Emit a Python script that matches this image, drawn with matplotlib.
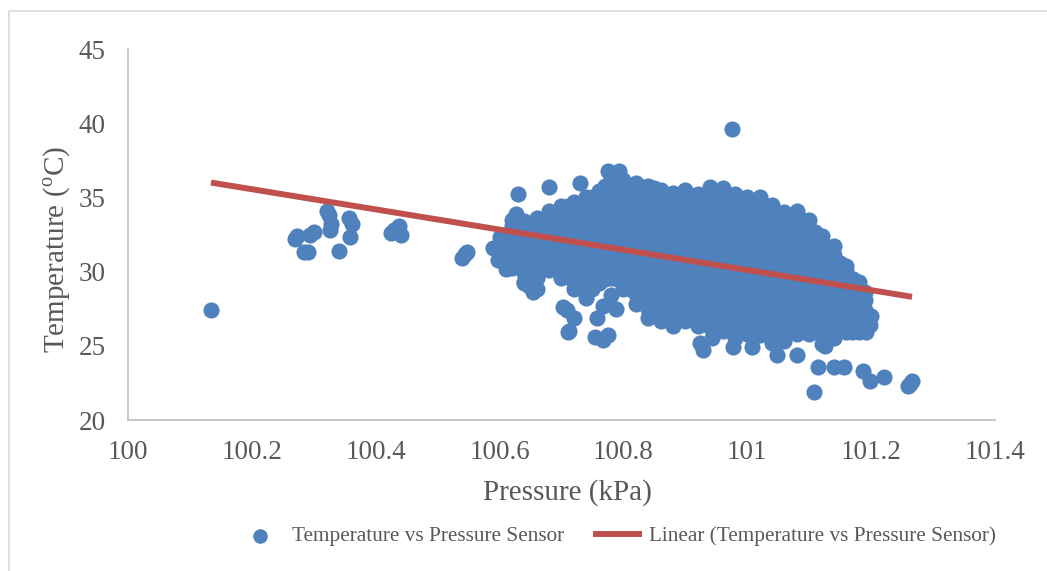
import matplotlib
matplotlib.use('Agg')
import matplotlib.pyplot as plt
from matplotlib.patches import Rectangle

plt.rcParams['font.family'] = ['Liberation Serif', 'DejaVu Serif']
plt.rcParams['mathtext.fontset'] = 'custom'
plt.rcParams['mathtext.rm'] = 'Liberation Serif'

# Dense cloud
col_pressure = [100.60, 100.62, 100.64, 100.66, 100.68, 100.70, 100.72, 100.74,
                100.76, 100.78, 100.80, 100.82, 100.84, 100.86, 100.88, 100.90,
                100.92, 100.94, 100.96, 100.98, 101.00, 101.02, 101.04, 101.06,
                101.08, 101.10, 101.12, 101.14, 101.16, 101.18]
col_temps = [
    [30.9, 31.6, 32.3],
    [30.25, 30.95, 31.65, 32.35, 33.05, 33.5],
    [29.2, 29.9, 30.6, 31.3, 32.0, 32.7, 33.4],
    [28.85, 29.55, 30.25, 30.95, 31.65, 32.35, 33.05, 33.6],
    [30.1, 30.6, 31.3, 32.0, 32.7, 33.4, 34.1],
    [30.25, 30.95, 31.65, 32.35, 33.05, 33.75, 34.4],
    [28.8, 29.2, 29.9, 30.6, 31.3, 32.0, 32.7, 33.4, 34.1, 34.7],
    [28.2, 28.85, 29.55, 30.25, 30.95, 31.65, 32.35, 33.05, 33.75, 34.45, 35.0],
    [29.2, 29.9, 30.6, 31.3, 32.0, 32.7, 33.4, 34.1, 34.8, 35.4],
    [28.45, 29.55, 30.25, 30.95, 31.65, 32.35, 33.05, 33.75, 34.45, 35.15, 35.85, 36.3],
    [28.8, 29.2, 29.9, 30.6, 31.3, 32.0, 32.7, 33.4, 34.1, 34.8, 35.5, 36.2],
    [27.8, 28.5, 29.2, 29.9, 30.6, 31.3, 32.0, 32.7, 33.4, 34.1, 34.8, 35.5, 36.0],
    [26.9, 27.45, 28.15, 28.85, 29.55, 30.25, 30.95, 31.65, 32.35, 33.05, 33.75, 34.45, 35.15, 35.8],
    [26.7, 27.1, 27.8, 28.5, 29.2, 29.9, 30.6, 31.3, 32.0, 32.7, 33.4, 34.1, 34.8, 35.5],
    [26.35, 27.05, 27.75, 28.45, 29.15, 29.85, 30.55, 31.25, 31.95, 32.65, 33.35, 34.05, 34.75, 35.3],
    [26.7, 27.4, 28.1, 28.8, 29.5, 30.2, 30.9, 31.6, 32.3, 33.0, 33.7, 34.4, 35.1, 35.5],
    [26.35, 27.05, 27.75, 28.45, 29.15, 29.85, 30.55, 31.25, 31.95, 32.65, 33.35, 34.05, 34.75, 35.2],
    [26.3, 27.0, 27.7, 28.4, 29.1, 29.8, 30.5, 31.2, 31.9, 32.6, 33.3, 34.0, 34.7, 35.4, 35.7],
    [26.0, 26.65, 27.35, 28.05, 28.75, 29.45, 30.15, 30.85, 31.55, 32.25, 32.95, 33.65, 34.35, 35.05, 35.6],
    [25.5, 26.3, 27.0, 27.7, 28.4, 29.1, 29.8, 30.5, 31.2, 31.9, 32.6, 33.3, 34.0, 34.7, 35.2],
    [25.8, 26.45, 27.15, 27.85, 28.55, 29.25, 29.95, 30.65, 31.35, 32.05, 32.75, 33.45, 34.15, 34.85, 35.0],
    [25.7, 26.3, 27.0, 27.7, 28.4, 29.1, 29.8, 30.5, 31.2, 31.9, 32.6, 33.3, 34.0, 34.7, 35.0],
    [25.2, 25.95, 26.65, 27.35, 28.05, 28.75, 29.45, 30.15, 30.85, 31.55, 32.25, 32.95, 33.65, 34.35, 34.5],
    [25.3, 26.0, 26.7, 27.4, 28.1, 28.8, 29.5, 30.2, 30.9, 31.6, 32.3, 33.0, 33.7, 34.0],
    [25.8, 26.35, 27.05, 27.75, 28.45, 29.15, 29.85, 30.55, 31.25, 31.95, 32.65, 33.35, 34.1],
    [25.8, 26.5, 27.2, 27.9, 28.6, 29.3, 30.0, 30.7, 31.4, 32.1, 32.8, 33.5],
    [25.1, 25.7, 26.35, 27.05, 27.75, 28.45, 29.15, 29.85, 30.55, 31.25, 31.95, 32.4],
    [25.5, 26.2, 26.9, 27.6, 28.3, 29.0, 29.7, 30.4, 31.1, 31.7],
    [25.9, 26.55, 27.25, 27.95, 28.65, 29.35, 30.05, 30.4],
    [25.9, 26.6, 27.3, 28.0, 28.7, 29.3],
]

# Points between those columns
mid_pressure = [100.63, 100.65, 100.67, 100.69, 100.71, 100.73, 100.75, 100.77,
                100.79, 100.81, 100.83, 100.85, 100.87, 100.89, 100.91, 100.93,
                100.95, 100.97, 100.99, 101.01, 101.03, 101.05, 101.07, 101.09,
                101.11, 101.13, 101.15, 101.17, 101.19]
mid_temps = [
    [30.9, 31.6, 32.3, 33.0],
    [29.5, 30.2, 30.9, 31.6, 32.3, 33.0],
    [30.2, 30.9, 31.6, 32.3, 33.0, 33.4],
    [30.9, 31.6, 32.3, 33.0, 33.7],
    [30.9, 31.6, 32.3, 33.0, 33.7, 34.4],
    [29.5, 30.2, 30.9, 31.6, 32.3, 33.0, 33.7, 34.4],
    [28.8, 29.5, 30.2, 30.9, 31.6, 32.3, 33.0, 33.7, 34.4, 35.0],
    [29.5, 30.2, 30.9, 31.6, 32.3, 33.0, 33.7, 34.4, 35.1, 35.8],
    [29.5, 30.2, 30.9, 31.6, 32.3, 33.0, 33.7, 34.4, 35.1, 35.8],
    [28.8, 29.5, 30.2, 30.9, 31.6, 32.3, 33.0, 33.7, 34.4, 35.1, 35.8],
    [28.1, 28.8, 29.5, 30.2, 30.9, 31.6, 32.3, 33.0, 33.7, 34.4, 35.1, 35.7],
    [27.4, 28.1, 28.8, 29.5, 30.2, 30.9, 31.6, 32.3, 33.0, 33.7, 34.4, 35.1, 35.6],
    [27.4, 28.1, 28.8, 29.5, 30.2, 30.9, 31.6, 32.3, 33.0, 33.7, 34.4, 35.1],
    [27.4, 28.1, 28.8, 29.5, 30.2, 30.9, 31.6, 32.3, 33.0, 33.7, 34.4, 35.1],
    [27.4, 28.1, 28.8, 29.5, 30.2, 30.9, 31.6, 32.3, 33.0, 33.7, 34.4, 35.1],
    [26.7, 27.4, 28.1, 28.8, 29.5, 30.2, 30.9, 31.6, 32.3, 33.0, 33.7, 34.4, 35.1],
    [26.7, 27.4, 28.1, 28.8, 29.5, 30.2, 30.9, 31.6, 32.3, 33.0, 33.7, 34.4, 35.1],
    [26.7, 27.4, 28.1, 28.8, 29.5, 30.2, 30.9, 31.6, 32.3, 33.0, 33.7, 34.4, 35.1],
    [26.0, 26.7, 27.4, 28.1, 28.8, 29.5, 30.2, 30.9, 31.6, 32.3, 33.0, 33.7, 34.4, 34.9],
    [26.0, 26.7, 27.4, 28.1, 28.8, 29.5, 30.2, 30.9, 31.6, 32.3, 33.0, 33.7, 34.4],
    [26.0, 26.7, 27.4, 28.1, 28.8, 29.5, 30.2, 30.9, 31.6, 32.3, 33.0, 33.7, 34.4],
    [26.0, 26.7, 27.4, 28.1, 28.8, 29.5, 30.2, 30.9, 31.6, 32.3, 33.0, 33.7],
    [26.0, 26.7, 27.4, 28.1, 28.8, 29.5, 30.2, 30.9, 31.6, 32.3, 33.0, 33.7],
    [26.0, 26.7, 27.4, 28.1, 28.8, 29.5, 30.2, 30.9, 31.6, 32.3, 33.0, 33.5],
    [26.0, 26.7, 27.4, 28.1, 28.8, 29.5, 30.2, 30.9, 31.6, 32.3, 32.7],
    [26.0, 26.7, 27.4, 28.1, 28.8, 29.5, 30.2, 30.9, 31.6],
    [26.7, 27.4, 28.1, 28.8, 29.5, 30.2, 30.6],
    [26.7, 27.4, 28.1, 28.8, 29.5],
    [26.7, 27.4, 28.1, 28.6],
]

# Scattered points around the cloud
out_pressure = [100.134, 100.270, 100.273, 100.284, 100.290, 100.294, 100.300, 100.322,
                100.325, 100.328, 100.326, 100.340, 100.357, 100.362, 100.358, 100.425,
                100.430, 100.438, 100.441, 100.539, 100.544, 100.548, 100.590, 100.598,
                100.610, 100.627, 100.630, 100.640, 100.648, 100.654, 100.680, 100.700,
                100.703, 100.709, 100.711, 100.720, 100.712, 100.730, 100.754, 100.757,
                100.767, 100.767, 100.775, 100.775, 100.788, 100.793, 100.923, 100.929,
                100.943, 100.977, 101.008, 101.048, 101.080, 101.108, 101.114, 101.125,
                101.140, 101.156, 101.169, 101.187, 101.192, 101.198, 101.200, 101.198,
                101.221, 101.260, 101.263, 101.266, 100.975]
out_temps = [27.4, 32.2, 32.4, 31.3, 31.3, 32.5, 32.7, 34.1,
             33.8, 33.2, 32.8, 31.4, 33.6, 33.2, 32.3, 32.6,
             32.8, 33.1, 32.5, 30.9, 31.2, 31.3, 31.6, 30.8,
             30.2, 33.9, 35.2, 29.3, 29.0, 28.6, 35.7, 29.6,
             27.6, 27.4, 25.9, 26.9, 26.0, 36.0, 25.6, 26.9,
             27.7, 25.4, 25.7, 36.8, 27.5, 36.8, 25.2, 24.7,
             25.5, 24.9, 24.9, 24.4, 24.4, 21.9, 23.6, 25.0,
             23.6, 23.6, 25.9, 23.3, 25.9, 22.6, 27.0, 26.4,
             22.9, 22.3, 22.4, 22.6, 39.6]

# Trend line end points
trend_pressure = [100.134, 101.266]
trend_temps = [36.0, 28.3]

x_ticks = [100, 100.2, 100.4, 100.6, 100.8, 101, 101.2, 101.4]
x_labels = ['100', '100.2', '100.4', '100.6', '100.8', '101', '101.2', '101.4']
y_ticks = [20, 25, 30, 35, 40, 45]

pressure = list(out_pressure)
temps = list(out_temps)
for p, col in zip(col_pressure + mid_pressure, col_temps + mid_temps):
    pressure += [p] * len(col)
    temps += col

fig = plt.figure(figsize=(10.47, 5.71), dpi=100)
fig.patches.append(Rectangle((9 / 1047, -0.01), 1.0, 0.99, transform=fig.transFigure,
                             fill=False, ec='#d9d9d9', lw=1.2))

ax = fig.add_axes([128 / 1047, 1 - 420 / 571, (995 - 128) / 1047, (420 - 49) / 571])
ax.scatter(pressure, temps, s=135, color='#4F81BD', linewidths=0, clip_on=False,
           label='Temperature vs Pressure Sensor')
ax.plot(trend_pressure, trend_temps, color='#C0504D', lw=4.3, solid_capstyle='butt',
        label='Linear (Temperature vs Pressure Sensor)')

ax.set_xlim(100, 101.4)
ax.set_ylim(20, 45)
ax.set_xticks(x_ticks, x_labels)
ax.set_yticks(y_ticks)
ax.tick_params(length=0, labelsize=19.5, labelcolor='#595959')
ax.tick_params(axis='x', pad=14.5)
ax.tick_params(axis='y', pad=16)
for side in ['top', 'right']:
    ax.spines[side].set_visible(False)
for side in ['left', 'bottom']:
    ax.spines[side].set_color('#bfbfbf')
    ax.spines[side].set_linewidth(1.2)

fig.text(567 / 1047, 1 - 493 / 571, 'Pressure (kPa)', fontsize=21, color='#595959',
         ha='center', va='center')
fig.text(57 / 1047, 1 - 250 / 571, r'Temperature ($^{\mathrm{o}}$C)', fontsize=21,
         color='#595959', rotation=90, ha='center', va='center')

fig.legend(loc='center', bbox_to_anchor=(616 / 1047, 1 - 536.5 / 571), ncols=2, frameon=False,
           fontsize=15.3, labelcolor='#595959', handlelength=2.3, columnspacing=1.36,
           handletextpad=0.35, markerscale=0.9)

fig.savefig('out.png', dpi=100)
